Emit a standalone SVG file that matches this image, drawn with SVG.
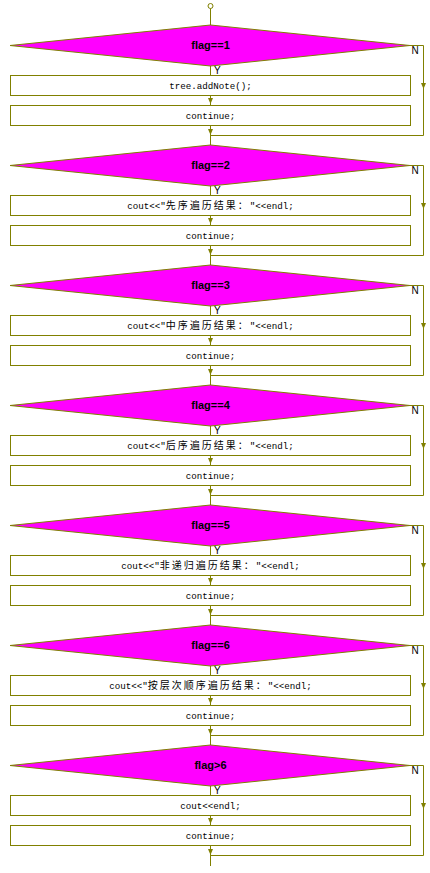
<svg xmlns="http://www.w3.org/2000/svg" xmlns:xlink="http://www.w3.org/1999/xlink" width="430" height="873" viewBox="0 0 430 873">
<style>
.dia{fill:#FF00FF;stroke:#808000;stroke-width:1}
.box{fill:#FFFFFF;stroke:#808000;stroke-width:1}
.ln{fill:none;stroke:#808000;stroke-width:1}
.ah{fill:#808000;stroke:none}
.dt{font-family:"Liberation Sans","Noto Sans CJK SC",sans-serif;font-size:11px;font-weight:bold;fill:#000;text-anchor:middle}
.bt{font-family:"Liberation Mono","Noto Sans CJK SC",monospace;font-size:9.2px;fill:#000;text-anchor:middle}
.cj{font-family:"Noto Sans CJK SC",sans-serif;font-size:10px;letter-spacing:2px}
.lb{font-family:"Liberation Sans","DejaVu Sans",sans-serif;font-size:10px;fill:#000}
</style>
<defs>
<path id="ah" class="ah" d="M-2.5,-6 L2.5,-6 L0,0 Z"/>
</defs>
<rect x="0" y="0" width="430" height="873" fill="#FFFFFF"/>
<g id="connectors">
<circle cx="210.5" cy="6" r="2.5" fill="#FFFFFF" stroke="#808000"/>
<line class="ln" x1="210.5" y1="8.5" x2="210.5" y2="25"/>
<g id="c1">
<path class="ln" d="M210.5,65 V75 M210.5,95 V105 M210.5,125 V145 M410,45.5 H423.5 V135.5 H210.5"/>
<use xlink:href="#ah" x="210.5" y="104"/><use xlink:href="#ah" x="210.5" y="135"/><use xlink:href="#ah" x="423.5" y="89"/>
</g>
<g id="c2">
<path class="ln" d="M210.5,185 V195 M210.5,215 V225 M210.5,245 V265 M410,165.5 H423.5 V255.5 H210.5"/>
<use xlink:href="#ah" x="210.5" y="224"/><use xlink:href="#ah" x="210.5" y="255"/><use xlink:href="#ah" x="423.5" y="209"/>
</g>
<g id="c3">
<path class="ln" d="M210.5,305 V315 M210.5,335 V345 M210.5,365 V385 M410,285.5 H423.5 V375.5 H210.5"/>
<use xlink:href="#ah" x="210.5" y="344"/><use xlink:href="#ah" x="210.5" y="375"/><use xlink:href="#ah" x="423.5" y="329"/>
</g>
<g id="c4">
<path class="ln" d="M210.5,425 V435 M210.5,455 V465 M210.5,485 V505 M410,405.5 H423.5 V495.5 H210.5"/>
<use xlink:href="#ah" x="210.5" y="464"/><use xlink:href="#ah" x="210.5" y="495"/><use xlink:href="#ah" x="423.5" y="449"/>
</g>
<g id="c5">
<path class="ln" d="M210.5,545 V555 M210.5,575 V585 M210.5,605 V625 M410,525.5 H423.5 V615.5 H210.5"/>
<use xlink:href="#ah" x="210.5" y="584"/><use xlink:href="#ah" x="210.5" y="615"/><use xlink:href="#ah" x="423.5" y="569"/>
</g>
<g id="c6">
<path class="ln" d="M210.5,665 V675 M210.5,695 V705 M210.5,725 V745 M410,645.5 H423.5 V735.5 H210.5"/>
<use xlink:href="#ah" x="210.5" y="704"/><use xlink:href="#ah" x="210.5" y="735"/><use xlink:href="#ah" x="423.5" y="689"/>
</g>
<g id="c7">
<path class="ln" d="M210.5,785 V795 M210.5,815 V825 M210.5,845 V866 M410,765.5 H423.5 V855.5 H210.5"/>
<use xlink:href="#ah" x="210.5" y="824"/><use xlink:href="#ah" x="210.5" y="855"/><use xlink:href="#ah" x="423.5" y="809"/>
</g>
</g>
<g id="d1"><polygon class="dia" points="210.5,25 410,45.5 210.5,66 10,45.5"/><text class="dt" x="210.5" y="48.5">flag==1</text><text class="lb" x="214" y="73.5">Y</text><text class="lb" x="411.5" y="54">N</text></g>
<g id="b1a"><rect class="box" x="10.5" y="75.5" width="400" height="20"/><text class="bt" x="210.5" y="88.5">tree.addNote();</text></g>
<g id="b1b"><rect class="box" x="10.5" y="105.5" width="400" height="20"/><text class="bt" x="210.5" y="118.5">continue;</text></g>

<g id="d2"><polygon class="dia" points="210.5,145 410,165.5 210.5,186 10,165.5"/><text class="dt" x="210.5" y="168.5">flag==2</text><text class="lb" x="214" y="193.5">Y</text><text class="lb" x="411.5" y="174">N</text></g>
<g id="b2a"><rect class="box" x="10.5" y="195.5" width="400" height="20"/><text class="bt" x="210.5" y="208.5">cout&lt;&lt;"<tspan class="cj">先序遍历结果：</tspan>"&lt;&lt;endl;</text></g>
<g id="b2b"><rect class="box" x="10.5" y="225.5" width="400" height="20"/><text class="bt" x="210.5" y="238.5">continue;</text></g>

<g id="d3"><polygon class="dia" points="210.5,265 410,285.5 210.5,306 10,285.5"/><text class="dt" x="210.5" y="288.5">flag==3</text><text class="lb" x="214" y="313.5">Y</text><text class="lb" x="411.5" y="294">N</text></g>
<g id="b3a"><rect class="box" x="10.5" y="315.5" width="400" height="20"/><text class="bt" x="210.5" y="328.5">cout&lt;&lt;"<tspan class="cj">中序遍历结果：</tspan>"&lt;&lt;endl;</text></g>
<g id="b3b"><rect class="box" x="10.5" y="345.5" width="400" height="20"/><text class="bt" x="210.5" y="358.5">continue;</text></g>

<g id="d4"><polygon class="dia" points="210.5,385 410,405.5 210.5,426 10,405.5"/><text class="dt" x="210.5" y="408.5">flag==4</text><text class="lb" x="214" y="433.5">Y</text><text class="lb" x="411.5" y="414">N</text></g>
<g id="b4a"><rect class="box" x="10.5" y="435.5" width="400" height="20"/><text class="bt" x="210.5" y="448.5">cout&lt;&lt;"<tspan class="cj">后序遍历结果：</tspan>"&lt;&lt;endl;</text></g>
<g id="b4b"><rect class="box" x="10.5" y="465.5" width="400" height="20"/><text class="bt" x="210.5" y="478.5">continue;</text></g>

<g id="d5"><polygon class="dia" points="210.5,505 410,525.5 210.5,546 10,525.5"/><text class="dt" x="210.5" y="528.5">flag==5</text><text class="lb" x="214" y="553.5">Y</text><text class="lb" x="411.5" y="534">N</text></g>
<g id="b5a"><rect class="box" x="10.5" y="555.5" width="400" height="20"/><text class="bt" x="210.5" y="568.5">cout&lt;&lt;"<tspan class="cj">非递归遍历结果：</tspan>"&lt;&lt;endl;</text></g>
<g id="b5b"><rect class="box" x="10.5" y="585.5" width="400" height="20"/><text class="bt" x="210.5" y="598.5">continue;</text></g>

<g id="d6"><polygon class="dia" points="210.5,625 410,645.5 210.5,666 10,645.5"/><text class="dt" x="210.5" y="648.5">flag==6</text><text class="lb" x="214" y="673.5">Y</text><text class="lb" x="411.5" y="654">N</text></g>
<g id="b6a"><rect class="box" x="10.5" y="675.5" width="400" height="20"/><text class="bt" x="210.5" y="688.5">cout&lt;&lt;"<tspan class="cj">按层次顺序遍历结果：</tspan>"&lt;&lt;endl;</text></g>
<g id="b6b"><rect class="box" x="10.5" y="705.5" width="400" height="20"/><text class="bt" x="210.5" y="718.5">continue;</text></g>

<g id="d7"><polygon class="dia" points="210.5,745 410,765.5 210.5,786 10,765.5"/><text class="dt" x="210.5" y="768.5">flag&gt;6</text><text class="lb" x="214" y="793.5">Y</text><text class="lb" x="411.5" y="774">N</text></g>
<g id="b7a"><rect class="box" x="10.5" y="795.5" width="400" height="20"/><text class="bt" x="210.5" y="808.5">cout&lt;&lt;endl;</text></g>
<g id="b7b"><rect class="box" x="10.5" y="825.5" width="400" height="20"/><text class="bt" x="210.5" y="838.5">continue;</text></g>
</svg>
